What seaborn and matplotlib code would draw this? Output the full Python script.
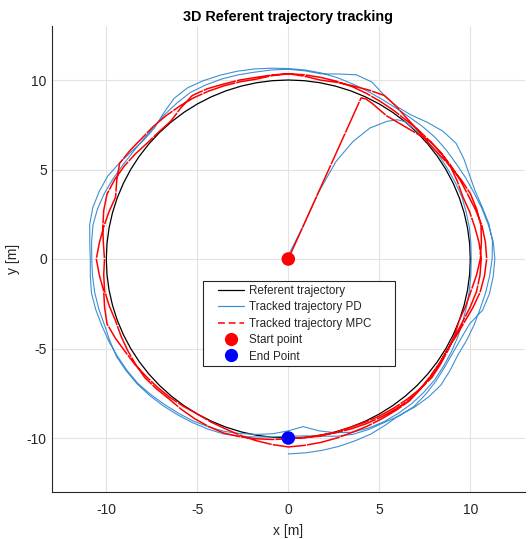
import numpy as np
import pandas as pd
import matplotlib
matplotlib.use("Agg")
import matplotlib.pyplot as plt
from matplotlib.lines import Line2D
from matplotlib.patches import Rectangle
import seaborn as sns

# ---------------- data ----------------
REF_RADIUS = 10.0
ref_angles_deg = list(range(0, 361, 5))

# PD tracked trajectory: approach from the start point (x, y) ...
pd_approach_x = [0.0, 0.02, 0.8, 1.69, 2.63, 3.56, 4.49, 5.42, 5.98, 6.35]
pd_approach_y = [0.0, 0.24, 1.8, 3.78, 5.46, 6.57, 7.32, 7.69, 7.78, 7.69]
# ... then radius [m] read every 5 deg while going clockwise, from 50 deg to -810 deg
pd_angle = list(range(50, -811, -5))
pd_radius = [
    # lap 1: 50 .. -305
    10.0, 10.05, 10.1, 10.1, 10.1, 10.12, 10.15, 10.12, 10.1, 10.07,
    10.05, 10.07, 10.1, 10.15, 10.2, 10.28, 10.35, 10.42, 10.5, 10.53,
    10.55, 10.53, 10.5, 10.42, 10.3, 10.05, 9.75, 9.4, 9.6, 9.8,
    9.95, 10.1, 10.25, 10.35, 10.45, 10.52, 10.6, 10.7, 10.8, 10.83,
    10.85, 10.88, 10.9, 10.95, 10.98, 10.92, 10.88, 10.95, 11.08, 11.12,
    11.05, 10.95, 10.72, 10.5, 10.35, 10.38, 10.65, 10.95, 11.05, 11.0,
    10.93, 10.86, 10.78, 10.7, 10.64, 10.6, 10.55, 10.48, 10.4, 10.34,
    10.3, 10.3,
    # lap 2: -310 .. -665
    10.35, 10.45, 10.55, 10.6, 10.65, 10.75, 10.85, 11.0, 11.15, 11.3,
    11.35, 11.3, 11.22, 11.05, 10.6, 10.48, 10.45, 10.5, 10.6, 10.68,
    10.75, 10.68, 10.55, 10.5, 10.42, 10.25, 10.05, 9.92, 9.9, 9.98,
    10.1, 10.25, 10.4, 10.48, 10.55, 10.62, 10.7, 10.78, 10.85, 10.88,
    10.9, 10.82, 10.75, 10.78, 10.8, 10.8, 10.8, 10.85, 10.9, 10.85,
    10.75, 10.62, 10.5, 10.42, 10.4, 10.45, 10.55, 10.65, 10.75, 10.73,
    10.7, 10.65, 10.6, 10.6, 10.6, 10.55, 10.5, 10.7, 10.95, 10.9,
    10.55, 10.4,
    # last part: -670 .. -810
    10.5, 10.8, 11.1, 11.26, 11.15, 11.0, 10.95, 11.05, 11.2, 11.26,
    11.2, 11.1, 11.0, 10.9, 10.85, 10.8, 10.75, 10.85, 10.95, 10.9,
    10.8, 10.65, 10.7, 10.78, 10.8, 10.83, 10.85, 10.87, 10.89,
]

# MPC tracked trajectory: approach from the start point (x, y) ...
mpc_approach_x = [0.0, 4.0, 4.25, 4.6, 5.4, 6.4]
mpc_approach_y = [0.0, 9.0, 8.95, 8.7, 8.0, 7.4]
# ... then radius [m] read every 5 deg while going clockwise, from 40 deg to -810 deg
mpc_angle = list(range(40, -811, -5))
mpc_radius = [
    # lap 1: 40 .. -315
    10.2, 10.27, 10.3, 10.25, 10.2, 10.3, 10.4, 10.52, 10.6, 10.57,
    10.5, 10.35, 10.2, 10.13, 10.1, 10.15, 10.2, 10.25, 10.3, 10.25,
    10.2, 10.15, 10.1, 10.05, 10.0, 10.02, 10.05, 10.12, 10.2, 10.28,
    10.35, 10.33, 10.3, 10.25, 10.2, 10.25, 10.3, 10.25, 10.2, 10.15,
    10.1, 10.18, 10.25, 10.18, 10.1, 10.2, 10.35, 10.5, 10.6, 10.52,
    10.4, 10.25, 10.1, 10.05, 10.05, 10.3, 10.55, 10.5, 10.4, 10.35,
    10.3, 10.32, 10.35, 10.33, 10.3, 10.28, 10.25, 10.2, 10.15, 10.12,
    10.1, 10.15,
    # lap 2: -320 .. -675
    10.2, 10.28, 10.35, 10.42, 10.5, 10.65, 10.8, 10.87, 10.9, 10.82,
    10.7, 10.5, 10.3, 10.18, 10.1, 10.15, 10.2, 10.28, 10.35, 10.32,
    10.3, 10.3, 10.3, 10.35, 10.4, 10.45, 10.5, 10.4, 10.3, 10.2,
    10.1, 10.05, 10.0, 10.05, 10.1, 10.15, 10.2, 10.28, 10.35, 10.48,
    10.6, 10.45, 10.3, 10.42, 10.55, 10.42, 10.3, 10.2, 10.1, 10.4,
    10.7, 10.6, 10.5, 10.48, 10.45, 10.42, 10.4, 10.35, 10.3, 10.25,
    10.2, 10.28, 10.35, 10.25, 10.15, 10.22, 10.3, 10.42, 10.55, 10.38,
    10.2, 10.12,
    # last part: -680 .. -810
    10.05, 10.15, 10.3, 10.48, 10.65, 10.72, 10.75, 10.65, 10.55, 10.38,
    10.2, 10.1, 10.0, 10.08, 10.15, 10.22, 10.3, 10.25, 10.2, 10.15,
    10.1, 10.05, 10.0, 10.02, 10.05, 10.02, 10.0,
]

start_point = (0.0, 0.0)
end_point = (0.0, -10.0)

labels = ["Referent trajectory", "Tracked trajectory PD", "Tracked trajectory MPC",
          "Start point", "End Point"]
ticks = [-10, -5, 0, 5, 10]

# ---------------- build tables ----------------
def polar_to_xy(angles, radii):
    a = np.deg2rad(np.asarray(angles, float))
    r = np.asarray(radii, float)
    return r * np.cos(a), r * np.sin(a)

rx, ry = polar_to_xy(ref_angles_deg, [REF_RADIUS] * len(ref_angles_deg))
ref_df = pd.DataFrame({"x": rx, "y": ry})

px, py = polar_to_xy(pd_angle, pd_radius)
pd_df = pd.DataFrame({"x": np.concatenate([pd_approach_x, px]),
                      "y": np.concatenate([pd_approach_y, py])})

mx, my = polar_to_xy(mpc_angle, mpc_radius)
mpc_df = pd.DataFrame({"x": np.concatenate([mpc_approach_x, mx]),
                       "y": np.concatenate([mpc_approach_y, my])})

# ---------------- plot ----------------
sns.set_style("white")
plt.rcParams["font.family"] = ["Liberation Sans", "DejaVu Sans"]
plt.rcParams["axes.unicode_minus"] = False

W, H = 528, 539
fig = plt.figure(figsize=(W / 100, H / 100), dpi=100)
ax = fig.add_axes([51.7 / W, (H - 491.7) / H, 473.2 / W, 465.4 / H])

C_BLUE = "#3d90d2"
C_RED = "#ff0000"

sns.lineplot(data=ref_df, x="x", y="y", sort=False, estimator=None, color="black",
             lw=0.9, ax=ax, legend=False, zorder=3)
sns.lineplot(data=pd_df, x="x", y="y", sort=False, estimator=None, color=C_BLUE,
             lw=0.8, ax=ax, legend=False, zorder=4)
sns.lineplot(data=mpc_df, x="x", y="y", sort=False, estimator=None, color=C_RED,
             lw=1.1, ax=ax, legend=False, zorder=5, linestyle=(0, (22, 0.7)))
sns.scatterplot(x=[start_point[0]], y=[start_point[1]], color=C_RED, s=95,
                edgecolor="none", ax=ax, zorder=6, legend=False)
sns.scatterplot(x=[end_point[0]], y=[end_point[1]], color="#0000ff", s=95,
                edgecolor="none", ax=ax, zorder=6, legend=False)

ax.set_xlim(-13, 13)
ax.set_ylim(-13, 13)
ax.set_xticks(ticks)
ax.set_yticks(ticks)
ax.grid(True, color="#e3e3e3", lw=0.8)
ax.set_axisbelow(True)
for s in ["top", "right"]:
    ax.spines[s].set_visible(False)
for s in ["left", "bottom"]:
    ax.spines[s].set_color("#262626")
    ax.spines[s].set_linewidth(0.8)
ax.tick_params(direction="in", length=4, width=0.8, color="#262626",
               labelsize=10, labelcolor="#262626")
ax.tick_params(axis="x", pad=8)
ax.tick_params(axis="y", pad=3.5)
ax.set_xlabel("x [m]", fontsize=10, color="#262626", labelpad=5)
ax.set_ylabel("y [m]", fontsize=10, color="#262626")
ax.yaxis.set_label_coords(-0.067, 0.5)
ax.set_title("3D Referent trajectory tracking", fontsize=10.4, fontweight="bold",
             color="black", pad=4)

# legend box (MATLAB style, with wide side margins)
box = Rectangle((0.3197, 0.2701), 0.7255 - 0.3197, 0.4527 - 0.2701,
                transform=ax.transAxes, facecolor="white", edgecolor="#262626",
                lw=0.8, zorder=9)
ax.add_patch(box)
handles = [
    Line2D([], [], color="black", lw=0.9),
    Line2D([], [], color=C_BLUE, lw=0.9),
    Line2D([], [], color=C_RED, lw=1.1, linestyle=(0, (4.5, 2.5))),
    Line2D([], [], color=C_RED, marker="o", ls="none", markersize=9.5, markeredgewidth=0),
    Line2D([], [], color="#0000ff", marker="o", ls="none", markersize=9.5, markeredgewidth=0),
]
leg = ax.legend(handles, labels, loc="upper left", bbox_to_anchor=(0.3505, 0.4445),
                borderaxespad=0, fontsize=8.4, frameon=False,
                handlelength=2.25, handletextpad=0.45, labelspacing=0.38, borderpad=0)
leg.set_zorder(10)

fig.savefig("out.png", dpi=100)
